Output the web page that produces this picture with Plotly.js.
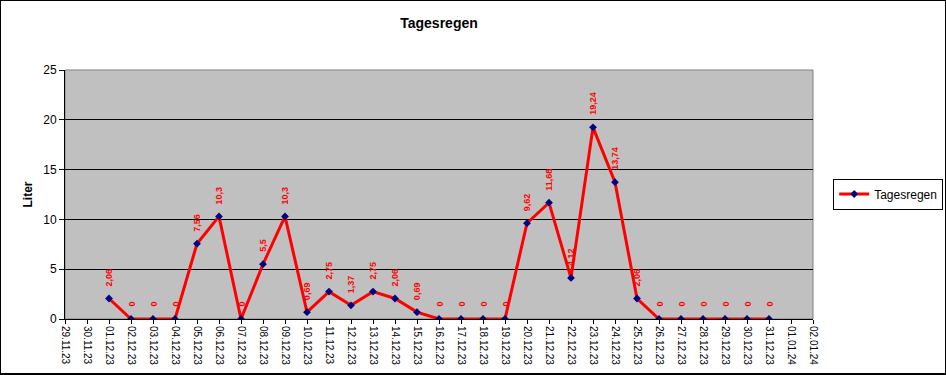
<!DOCTYPE html>
<html>
<head>
<meta charset="utf-8">
<script src="https://cdn.plot.ly/plotly-3.0.1.min.js"></script>
<style>
html,body{margin:0;padding:0;background:#fff;}
#wrap{position:relative;width:946px;height:375px;}
#chart{position:absolute;left:0;top:0;width:946px;height:375px;}
#frame{position:absolute;left:0;top:0;width:944px;height:372px;border:1px solid #000;border-bottom-width:2px;pointer-events:none;}
</style>
</head>
<body>
<div id="wrap"><div id="chart"></div><div id="frame"></div></div>
<script>
var dates = ["29.11.23","30.11.23","01.12.23","02.12.23","03.12.23","04.12.23","05.12.23","06.12.23","07.12.23","08.12.23","09.12.23","10.12.23","11.12.23","12.12.23","13.12.23","14.12.23","15.12.23","16.12.23","17.12.23","18.12.23","19.12.23","20.12.23","21.12.23","22.12.23","23.12.23","24.12.23","25.12.23","26.12.23","27.12.23","28.12.23","29.12.23","30.12.23","31.12.23","01.01.24","02.01.24"];
var rain = [null,null,2.06,0,0,0,7.56,10.3,0,5.5,10.3,0.69,2.75,1.37,2.75,2.06,0.69,0,0,0,0,9.62,11.68,4.12,19.24,13.74,2.06,0,0,0,0,0,0,null,null];
var yTicks = [0,5,10,15,20,25];

var font = "Liberation Sans, Arial, sans-serif";

var annotations = [];
for (var i = 0; i < dates.length; i++) {
  if (rain[i] === null) continue;
  annotations.push({
    x: dates[i], y: rain[i], xref: "x", yref: "y",
    text: "<b>" + String(rain[i]).replace(".", ",") + "</b>",
    showarrow: false, textangle: -90,
    xanchor: "center", yanchor: "bottom", yshift: 10,
    font: {family: font, size: 9, color: "#ff0000"}
  });
}

var trace = {
  type: "scatter", mode: "lines+markers",
  name: "Tagesregen",
  x: dates, y: rain,
  line: {color: "#ff0000", width: 3},
  marker: {symbol: "diamond", size: 6, color: "#000080"},
  connectgaps: false
};

var layout = {
  width: 946, height: 375,
  margin: {l: 65, r: 133, t: 70, b: 56, autoexpand: false},
  paper_bgcolor: "#ffffff",
  plot_bgcolor: "#c0c0c0",
  font: {family: font, size: 12, color: "#000"},
  title: {text: "<b>Tagesregen</b>", font: {family: font, size: 14, color: "#000"},
          x: 0.5, xref: "paper", y: 1 - 23/375, yref: "container", yanchor: "middle"},
  showlegend: true,
  legend: {x: 1.027, xanchor: "left", y: 0.502, yanchor: "middle",
           bgcolor: "#ffffff", bordercolor: "#000", borderwidth: 1,
           itemwidth: 30,
           font: {family: font, size: 12, color: "#000"}},
  xaxis: {
    type: "category", categoryorder: "array", categoryarray: dates,
    range: [0, dates.length - 1],
    tickmode: "array", tickvals: dates, ticktext: dates,
    tickangle: 90, tickfont: {family: font, size: 10, color: "#000"},
    ticks: "outside", ticklen: 4, tickcolor: "#000",
    showline: true, linecolor: "#000", linewidth: 1,
    showgrid: false, zeroline: false, fixedrange: true, automargin: false
  },
  yaxis: {
    range: [0, 25], tickmode: "array", tickvals: yTicks,
    tickfont: {family: font, size: 12, color: "#000"},
    ticks: "outside", ticklen: 5, tickcolor: "#000",
    showline: true, linecolor: "#000", linewidth: 1,
    showgrid: true, gridcolor: "#000", gridwidth: 1,
    zeroline: false, fixedrange: true, automargin: false,
    title: {text: "<b>Liter</b>", font: {family: font, size: 12, color: "#000"}, standoff: 8}
  },
  shapes: [{type: "rect", xref: "paper", yref: "paper", x0: 0, x1: 1, y0: 0, y1: 1,
            line: {color: "#808080", width: 1}, fillcolor: "rgba(0,0,0,0)", layer: "below"}],
  annotations: annotations
};

Plotly.newPlot("chart", [trace], layout, {displayModeBar: false, staticPlot: true});
</script>
</body>
</html>
